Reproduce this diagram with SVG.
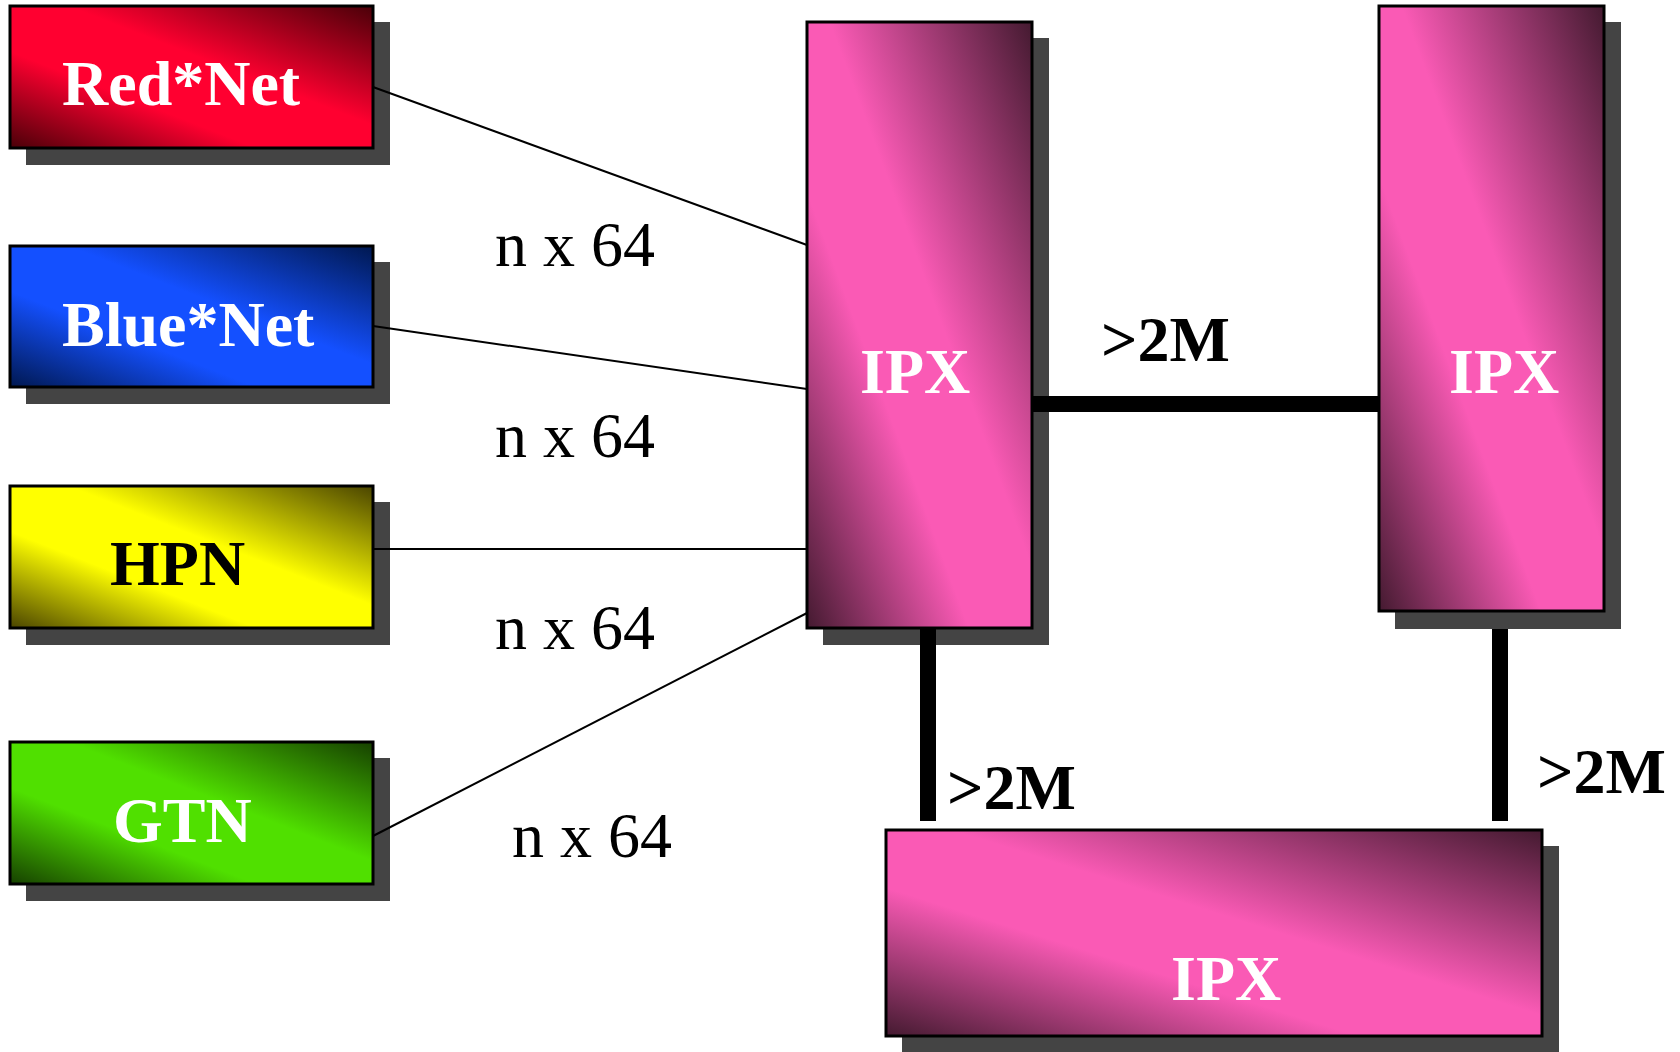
<svg xmlns="http://www.w3.org/2000/svg" width="1680" height="1052" viewBox="0 0 1680 1052">
<defs>
<linearGradient id="gRed" x1="1" y1="0" x2="0" y2="1">
<stop offset="0" stop-color="#4a0008"/><stop offset="0.42" stop-color="#ff0030"/><stop offset="0.66" stop-color="#ff0030"/><stop offset="1" stop-color="#4a0008"/>
</linearGradient>
<linearGradient id="gBlue" x1="1" y1="0" x2="0" y2="1">
<stop offset="0" stop-color="#001850"/><stop offset="0.42" stop-color="#1450ff"/><stop offset="0.66" stop-color="#1450ff"/><stop offset="1" stop-color="#001850"/>
</linearGradient>
<linearGradient id="gYellow" x1="1" y1="0" x2="0" y2="1">
<stop offset="0" stop-color="#4a4400"/><stop offset="0.42" stop-color="#ffff00"/><stop offset="0.66" stop-color="#ffff00"/><stop offset="1" stop-color="#4a4400"/>
</linearGradient>
<linearGradient id="gGreen" x1="1" y1="0" x2="0" y2="1">
<stop offset="0" stop-color="#164000"/><stop offset="0.42" stop-color="#50e000"/><stop offset="0.66" stop-color="#50e000"/><stop offset="1" stop-color="#164000"/>
</linearGradient>
<linearGradient id="gPink" x1="1" y1="0" x2="0" y2="1">
<stop offset="0" stop-color="#441a30"/><stop offset="0.45" stop-color="#fa5ab5"/><stop offset="0.64" stop-color="#fa5ab5"/><stop offset="1" stop-color="#441a30"/>
</linearGradient>
<style>
.sh{fill:#444444}
.bx{stroke:#000;stroke-width:3}
.lbl{font-family:"Liberation Serif","Times New Roman",serif;font-weight:bold;font-size:64px}
.w{fill:#ffffff}
.k{fill:#000000}
.rate{font-family:"Liberation Serif","Times New Roman",serif;font-size:64px;fill:#000}
.rateb{font-family:"Liberation Serif","Times New Roman",serif;font-weight:bold;font-size:64px;fill:#000}
.thin{stroke:#000;stroke-width:2;fill:none}
.thick{stroke:#000;stroke-width:16;fill:none}
</style>
</defs>
<rect width="1680" height="1052" fill="#ffffff"/>

<g id="red-net">
<rect class="sh" x="26" y="22" width="364" height="143"/>
<rect class="bx" x="10" y="6" width="363" height="142" fill="url(#gRed)"/>
<text class="lbl w" x="62" y="105">Red*Net</text>
</g>
<g id="blue-net">
<rect class="sh" x="26" y="262" width="364" height="142"/>
<rect class="bx" x="10" y="246" width="363" height="141" fill="url(#gBlue)"/>
<text class="lbl w" x="62" y="346">Blue*Net</text>
</g>
<g id="hpn">
<rect class="sh" x="26" y="502" width="364" height="143"/>
<rect class="bx" x="10" y="486" width="363" height="142" fill="url(#gYellow)"/>
<text class="lbl k" x="110" y="585">HPN</text>
</g>
<g id="gtn">
<rect class="sh" x="26" y="758" width="364" height="143"/>
<rect class="bx" x="10" y="742" width="363" height="142" fill="url(#gGreen)"/>
<text class="lbl w" x="113" y="842">GTN</text>
</g>
<g id="ipx-1">
<rect class="sh" x="823" y="38" width="226" height="607"/>
<rect class="bx" x="807" y="22" width="225" height="606" fill="url(#gPink)"/>
<text class="lbl w" x="860" y="393">IPX</text>
</g>
<g id="ipx-2">
<rect class="sh" x="1395" y="22" width="226" height="607"/>
<rect class="bx" x="1379" y="6" width="225" height="605" fill="url(#gPink)"/>
<text class="lbl w" x="1449" y="393">IPX</text>
</g>
<g id="ipx-3">
<rect class="sh" x="902" y="846" width="657" height="206"/>
<rect class="bx" x="886" y="830" width="656" height="206" fill="url(#gPink)"/>
<text class="lbl w" x="1171" y="1000">IPX</text>
</g>

<g id="connectors">
<line class="thin" x1="373" y1="87" x2="807" y2="245"/>
<line class="thin" x1="373" y1="326" x2="807" y2="389"/>
<line class="thin" x1="373" y1="549" x2="807" y2="549"/>
<line class="thin" x1="373" y1="836" x2="807" y2="613"/>
<line class="thick" x1="1033" y1="404" x2="1379" y2="404"/>
<line class="thick" x1="928" y1="629" x2="928" y2="821"/>
<line class="thick" x1="1500" y1="629" x2="1500" y2="821"/>
<text class="rate" x="495" y="266">n x 64</text>
<text class="rate" x="495" y="457">n x 64</text>
<text class="rate" x="495" y="649">n x 64</text>
<text class="rate" x="512" y="857">n x 64</text>
<text class="rateb" x="1101" y="361">&gt;2M</text>
<text class="rateb" x="947" y="809">&gt;2M</text>
<text class="rateb" x="1537" y="793">&gt;2M</text>
</g>
</svg>
